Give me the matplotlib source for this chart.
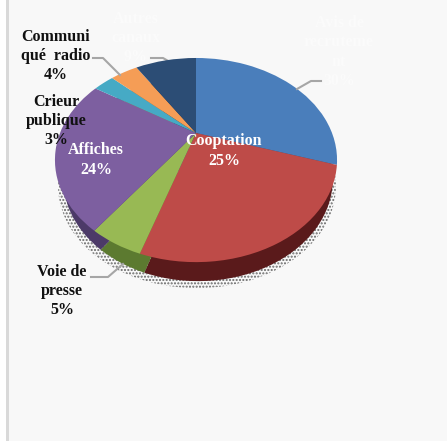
import matplotlib
matplotlib.use("Agg")
import matplotlib.pyplot as plt
import numpy as np
from matplotlib.transforms import Transform

plt.rcParams['font.family'] = ['Liberation Serif', 'DejaVu Serif']

canaux = ['Avis de\nrecruteme\nnt', 'Cooptation', 'Voie de\npresse', 'Affiches',
          'Crieur\npublique', 'Communi\nqué  radio', 'Autres\ncanaux']
valeurs = [30, 25, 5, 24, 3, 4, 9]
couleurs = ['#4a7ebb', '#be4b48', '#98b954', '#7d5fa0', '#46aac5', '#f59d56', '#2c4d75']
couleurs_bord = ['#2f5480', '#5a1a1b', '#5c7a30', '#4c3a68', '#2b7083', '#a0652f', '#1b304a']

W, H = 447, 441


class Perspective(Transform):
    # disque unite vu en perspective, vers des coordonnees en pixels
    input_dims = 2
    output_dims = 2

    def __init__(self, cx, cy, a, b, k):
        super().__init__()
        self.cx, self.cy, self.a, self.b, self.k = cx, cy, a, b, k

    def transform_non_affine(self, values):
        v = np.asarray(values, dtype=float)
        w = 1 + self.k * v[:, 1]
        return np.column_stack((self.cx + self.a * v[:, 0] / w,
                                self.cy - self.b * v[:, 1] / w))


fig = plt.figure(figsize=(W / 100, H / 100), dpi=100, facecolor='white')
ax = fig.add_axes([0, 0, 1, 1])

# ombre en pointilles, puis bord du disque, puis face du dessus
ombre, _ = ax.pie(valeurs, startangle=90, counterclock=False, radius=1)
bord, _ = ax.pie(valeurs, startangle=90, counterclock=False, radius=1, colors=couleurs_bord)
dessus, _ = ax.pie(valeurs, startangle=90, counterclock=False, radius=1, colors=couleurs)

ax.set_aspect('auto')
ax.set_xlim(0, W)
ax.set_ylim(H, 0)
ax.axis('off')

fond = plt.Rectangle((9, 0), W - 9, H, facecolor='#f8f8f8', edgecolor='none', zorder=0)
bande = plt.Rectangle((6, 0), 3, H, facecolor='#d9d9d9', edgecolor='none', zorder=0)
ax.add_patch(fond)
ax.add_patch(bande)

for p in ombre:
    p.set_transform(Perspective(197, 159, 134, 94.9, 0.265) + ax.transData)
    p.set_facecolor('none')
    p.set_edgecolor('#666666')
    p.set_hatch('.....')
    p.set_linewidth(0)
    p.set_zorder(1)
for p in bord:
    p.set_transform(Perspective(198, 152, 130, 94.9, 0.265) + ax.transData)
    p.set_linewidth(0)
    p.set_zorder(2)
for p in dessus:
    p.set_transform(Perspective(196, 133, 136, 94.9, 0.265) + ax.transData)
    p.set_linewidth(0)
    p.set_zorder(3)

# traits de rappel
gris = '#a6a6a6'
ax.plot([93, 103, 120], [58, 58, 75], color=gris, lw=1.5, zorder=4)
ax.plot([151, 163, 170], [58, 58, 62], color=gris, lw=1.5, zorder=2.5)
ax.plot([297, 311, 321], [89, 81, 81], color=gris, lw=1.5, zorder=4)
ax.plot([91, 108, 123], [277, 277, 264], color=gris, lw=1.5, zorder=4)


def etiquette(x, y, i, couleur, interligne=1.28):
    texte = canaux[i] + '\n' + str(valeurs[i]) + '%'
    ax.text(x, y, texte, ha='center', va='center', color=couleur, fontsize=11.5,
            fontweight='bold', linespacing=interligne, zorder=5)


etiquette(339, 52, 0, '#fbfbfb')
etiquette(224, 151, 1, '#ffffff', 1.4)
etiquette(62, 291, 2, '#111111')
etiquette(96, 160, 3, '#ffffff', 1.4)
etiquette(56, 121, 4, '#111111')
etiquette(56, 56, 5, '#111111')
etiquette(136, 38, 6, '#fbfbfb')

fig.savefig('out.png', dpi=100)
